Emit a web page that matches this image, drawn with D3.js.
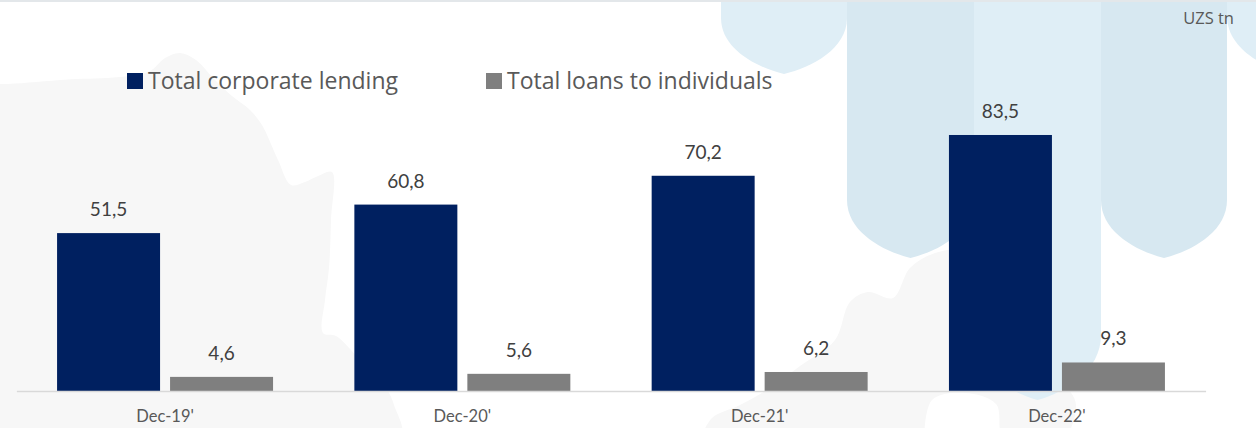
<!DOCTYPE html>
<html>
<head>
<meta charset="utf-8">
<script src="https://cdn.jsdelivr.net/npm/d3@7"></script>
<style>
  html, body { margin: 0; padding: 0; background: #ffffff; }
  svg { display: block; }
</style>
</head>
<body>
<svg id="chart" width="1256" height="428"></svg>
<script>
// Loan portfolio by borrower type, UZS trillion
const categories = ["Dec-19'", "Dec-20'", "Dec-21'", "Dec-22'"];
const seriesNames = ["Total corporate lending", "Total loans to individuals"];
const corporateLending = [51.5, 60.8, 70.2, 83.5];
const loansToIndividuals = [4.6, 5.6, 6.2, 9.3];
const unitLabel = "UZS tn";

const W = 1256, H = 428;
const colors = { corporate: "#002060", individuals: "#7f7f7f" };
const svg = d3.select("#chart");

// ---- background decoration -------------------------------------------
const deco = svg.append("g").attr("class", "decor");

// faint map silhouette
const mapLine = d3.line().curve(d3.curveCatmullRom.alpha(0.5));
const mapWest = [
  [-20, 82], [0, 84], [60, 80], [148, 72], [165, 58], [180, 53], [196, 60],
  [215, 80], [232, 96], [250, 110], [262, 125], [278, 160], [291, 185],
  [305, 182], [318, 176], [332, 172], [331, 220], [329, 268], [325, 300],
  [323, 333], [336, 336], [360, 360], [386, 388], [394, 405], [400, 440], [-20, 440]
];
const mapEast = [
  [700, 440], [712, 418], [740, 405], [770, 388], [800, 366], [835, 340],
  [850, 302], [868, 292], [893, 298], [910, 268], [935, 253], [962, 250],
  [1000, 268], [1035, 300], [1058, 340], [1064, 380], [1076, 405], [1062, 440],
  [1004, 440], [996, 404], [965, 393], [932, 400], [924, 440]
];
[mapWest, mapEast].forEach(pts => {
  deco.append("path")
    .attr("d", mapLine(pts) + "Z")
    .attr("fill", "#f7f7f7");
});

// shield-shaped columns hanging from the top edge
const shields = [
  { x: 721,  w: 126, ys: 18,  yt: 74,  c: "#dfeef6" },
  { x: 847,  w: 127, ys: 200, yt: 258, c: "#d7e8f1" },
  { x: 974,  w: 127, ys: 335, yt: 400, c: "#dfeef6" },
  { x: 1101, w: 126, ys: 200, yt: 258, c: "#d7e8f1" },
  { x: 1227, w: 126, ys: 16,  yt: 74,  c: "#dfeef6" }
];
shields.forEach(s => {
  const d = s.yt - s.ys, cx = s.x + s.w / 2, r = s.x + s.w;
  const p = d3.path();
  p.moveTo(s.x, -2);
  p.lineTo(s.x, s.ys);
  p.bezierCurveTo(s.x, s.ys + 0.55 * d, s.x + 0.28 * s.w, s.yt - 0.12 * d, cx, s.yt);
  p.bezierCurveTo(r - 0.28 * s.w, s.yt - 0.12 * d, r, s.ys + 0.55 * d, r, s.ys);
  p.lineTo(r, -2);
  p.closePath();
  deco.append("path").attr("d", p.toString()).attr("fill", s.c);
});

// thin rule along the top edge
deco.append("rect").attr("x", 0).attr("y", 0).attr("width", W).attr("height", 2)
  .attr("fill", "#e3e7ea");

// ---- scales -----------------------------------------------------------
const plot = { left: 16.4, right: 1205.6, baseline: 391 };

const x0 = d3.scaleBand()
  .domain(categories)
  .range([plot.left, plot.right])
  .paddingInner(0.2735)
  .paddingOuter(0.1368);

const x1 = d3.scaleBand()
  .domain(seriesNames)
  .range([0, x0.bandwidth()])
  .paddingInner(0.0885)
  .paddingOuter(0);

const y = d3.scaleLinear()
  .domain([0, 100])
  .range([plot.baseline, plot.baseline - 306.6]);

const locale = d3.formatLocale({ decimal: ",", thousands: " ", grouping: [3], currency: ["", ""] });
const fmt = locale.format(".1f");

const rows = categories.map((c, i) => ({
  category: c,
  values: [
    { key: seriesNames[0], value: corporateLending[i], color: colors.corporate },
    { key: seriesNames[1], value: loansToIndividuals[i], color: colors.individuals }
  ]
}));

// ---- bars ---------------------------------------------------------------
const groups = svg.append("g").attr("class", "bars")
  .selectAll("g")
  .data(rows)
  .join("g")
  .attr("transform", d => `translate(${x0(d.category)},0)`);

groups.selectAll("rect")
  .data(d => d.values)
  .join("rect")
  .attr("x", d => x1(d.key))
  .attr("y", d => y(d.value))
  .attr("width", x1.bandwidth())
  .attr("height", d => y(0) - y(d.value))
  .attr("fill", d => d.color);

groups.selectAll("text")
  .data(d => d.values)
  .join("text")
  .attr("x", d => x1(d.key) + x1.bandwidth() / 2)
  .attr("y", d => y(d.value) - 17)
  .attr("text-anchor", "middle")
  .attr("font-family", "Lato, 'Open Sans', sans-serif")
  .attr("font-size", 19)
  .attr("fill", "#404040")
  .text(d => fmt(d.value));

// ---- x axis -------------------------------------------------------------
const xAxis = d3.axisBottom(x0).tickSize(0).tickPadding(19);
const axisG = svg.append("g")
  .attr("transform", `translate(0,${plot.baseline})`)
  .call(xAxis);
axisG.select(".domain")
  .attr("stroke", "#d9d9d9")
  .attr("stroke-width", 1.6);
axisG.selectAll(".tick text")
  .attr("font-family", "Lato, 'Open Sans', sans-serif")
  .attr("font-size", 16.5)
  .attr("fill", "#595959");

// ---- legend -------------------------------------------------------------
const legendItems = [
  { name: seriesNames[0], color: colors.corporate, x: 127 },
  { name: seriesNames[1], color: colors.individuals, x: 486 }
];
const legend = svg.append("g").attr("class", "legend");
legendItems.forEach(it => {
  legend.append("rect")
    .attr("x", it.x).attr("y", 73)
    .attr("width", 16).attr("height", 16)
    .attr("fill", it.color);
  legend.append("text")
    .attr("x", it.x + 21).attr("y", 88.5)
    .attr("font-family", "'Open Sans', sans-serif")
    .attr("font-size", 23)
    .attr("fill", "#595959")
    .text(it.name);
});

// ---- unit label ---------------------------------------------------------
svg.append("text")
  .attr("x", 1234).attr("y", 24)
  .attr("text-anchor", "end")
  .attr("font-family", "'Open Sans', sans-serif")
  .attr("font-size", 16.5)
  .attr("fill", "#595959")
  .text(unitLabel);
</script>
</body>
</html>
